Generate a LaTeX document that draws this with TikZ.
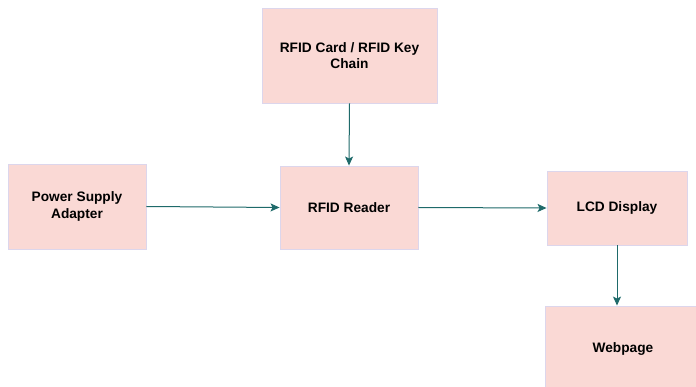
\documentclass[tikz,border=0pt]{standalone}
\usepackage{fontspec}
\setmainfont{Liberation Sans}
\usepackage{xcolor}
\usetikzlibrary{arrows.meta}

\definecolor{boxfill}{HTML}{FAD9D5}
\definecolor{boxline}{HTML}{DCD6EC}
\definecolor{arrowline}{HTML}{1E6A6A}

\tikzset{
	block/.style = {draw = boxline, fill = boxfill, line width = 0.9pt, align = center,
		font = \fontsize{13.7}{16.5}\selectfont\bfseries, inner sep = 0pt},
	link/.style = {draw = arrowline, line width = 1pt, -{Stealth[length = 9pt, width = 8pt, inset = 2pt]}}
}

\begin{document}
\begin{tikzpicture}[x = 1pt, y = -1pt]
					\useasboundingbox (0,0) rectangle (696,387);
					\clip (0,0) rectangle (696,387);

					\begin{scope}
						\node [block, minimum width = 175pt, minimum height = 95pt] (card) at (349.5,55.5) {RFID Card / RFID Key\\Chain};
						\node [block, minimum width = 138pt, minimum height = 85pt] (power) at (77,206.5) {Power Supply\\Adapter};
						\node [block, minimum width = 138pt, minimum height = 83pt] (reader) at (349,207.5) {RFID Reader};
						\node [block, minimum width = 140pt, minimum height = 74pt] (lcd) at (617,208) {LCD Display};
						\node [block, minimum width = 156pt, minimum height = 86pt] (web) at (623,349) {Webpage};
					\end{scope}

					\begin{scope}
						\draw [link] (card.south) -- (reader.north);
						\draw [link] (power.east) -- (reader.west);
						\draw [link] (reader.east) -- (lcd.west);
						\draw [link] (lcd.south) -- (lcd.south |- web.north);
					\end{scope}
				\end{tikzpicture}
\end{document}
